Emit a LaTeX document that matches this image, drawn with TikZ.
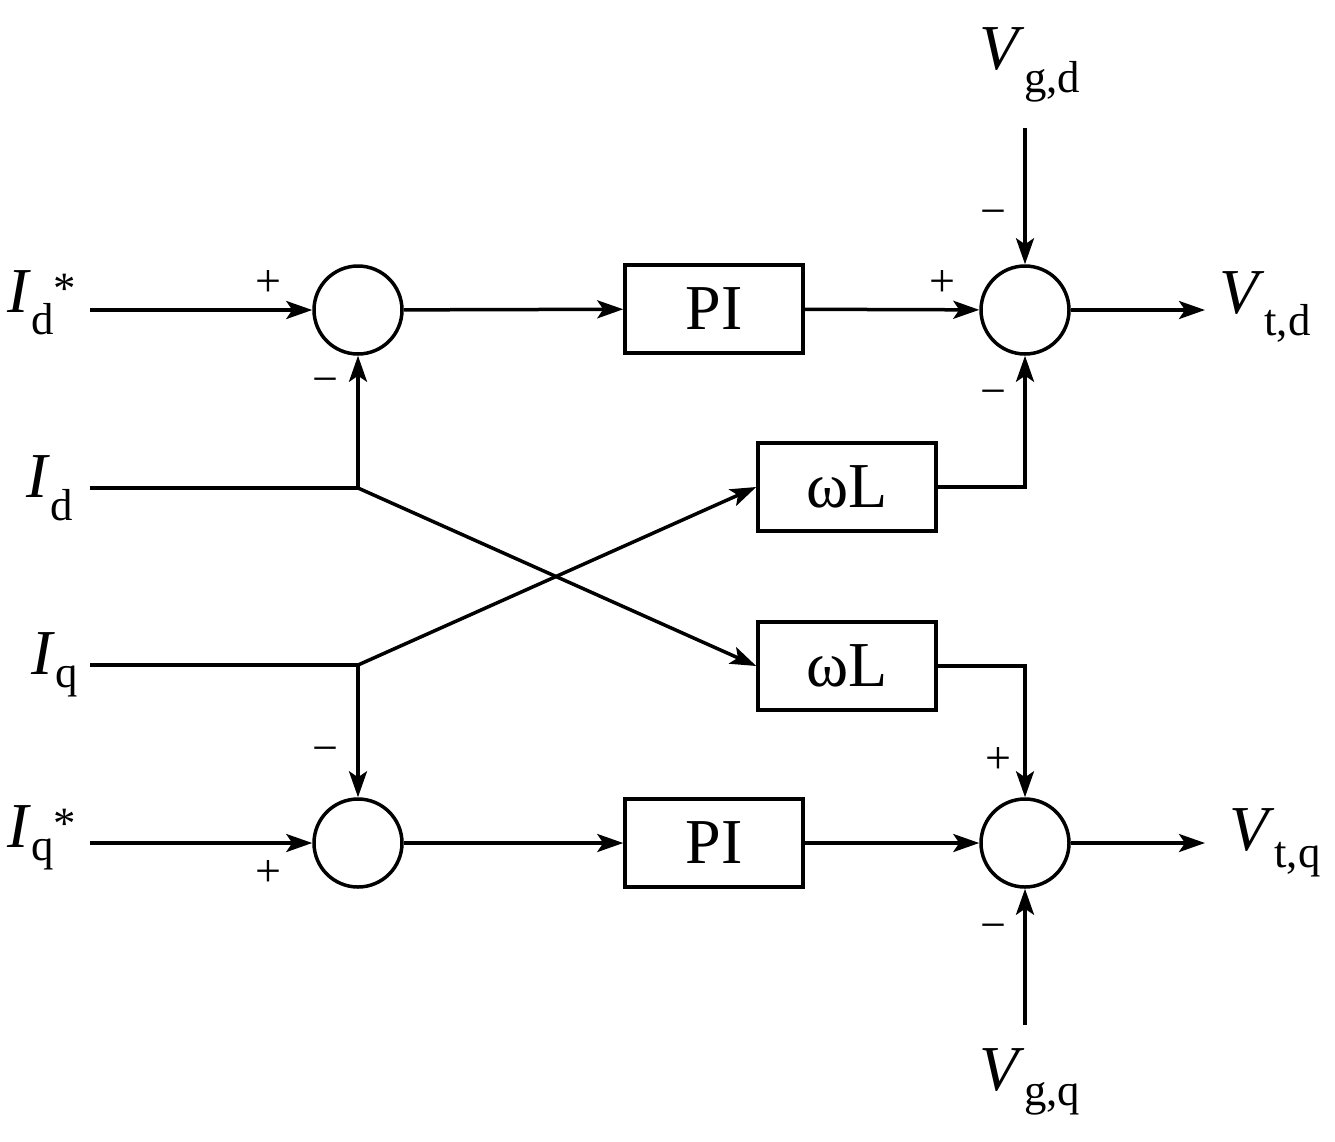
\documentclass[tikz,border=0pt]{standalone}
\usepackage{fontspec}
\setmainfont{Liberation Serif}
\usetikzlibrary{arrows.meta}
\newcommand{\vsub}[2]{\textit{#1}\textsubscript{#2}}
\begin{document}
\begin{tikzpicture}[x=1pt,y=-1pt,line width=3.5pt,
 sum/.style={circle,draw,minimum size=88pt,inner sep=0pt},
 blk/.style={draw,minimum width=178pt,minimum height=88pt,font=\fontsize{64}{68}\selectfont},
 lab/.style={font=\fontsize{64}{70}\selectfont},
 sg/.style={font=\fontsize{46}{50}\selectfont},
 ar/.style={-{Stealth[length=26pt,width=18pt,inset=6pt]}}]
\useasboundingbox (0,0) rectangle (1335,1141);
\node[sum] (s1) at (358,310) {};
\node[sum] (s2) at (1025,310) {};
\node[sum] (s3) at (358,843) {};
\node[sum] (s4) at (1025,843) {};
\node[blk] (pi1) at (714,309) {PI};
\node[blk] (pi2) at (714,843) {PI};
\node[blk] (w1) at (847,487) {ωL};
\node[blk] (w2) at (847,666) {ωL};
\node[lab] (idr) at (42,303) {\vsub{I}{d}\textsuperscript{*}};
\node[lab] (id) at (50,488) {\vsub{I}{d}};
\node[lab] (iq) at (55,665) {\vsub{I}{q}};
\node[lab] (iqr) at (42,838) {\vsub{I}{q}\textsuperscript{*}};
\node[lab] (vgd) at (1030,65) {\vsub{V}{g,d}};
\node[lab] (vgq) at (1030,1082) {\vsub{V}{g,q}};
\node[lab] (vtd) at (1265,307) {\vsub{V}{t,d}};
\node[lab] (vtq) at (1275,843) {\vsub{V}{t,q}};
\coordinate (a1) at (90,310); \coordinate (a2) at (90,488);
\coordinate (a3) at (90,665); \coordinate (a4) at (90,843);
\coordinate (j1) at (358,488); \coordinate (j2) at (358,665);
\coordinate (t1) at (1025,128); \coordinate (t2) at (1025,1025);
\coordinate (o1) at (1205,310); \coordinate (o2) at (1205,843);
\draw[ar] (a1) -- (s1);
\draw[ar] (s1) -- (pi1);
\draw[ar] (pi1) -- (s2);
\draw[ar] (s2) -- (o1);
\draw[ar] (a4) -- (s3);
\draw[ar] (s3) -- (pi2);
\draw[ar] (pi2) -- (s4);
\draw[ar] (s4) -- (o2);
\draw (a2) -- (j1); \draw[ar] (j1) -- (s1);
\draw (a3) -- (j2); \draw[ar] (j2) -- (s3);
\draw[ar] (j1) -- (w2.west);
\draw[ar] (j2) -- (w1.west);
\draw[ar] (w1.east) -| (s2);
\draw[ar] (w2.east) -| (s4);
\draw[ar] (t1) -- (s2);
\draw[ar] (t2) -- (s4);
\node[sg] at (268,283) {+}; \node[sg] at (325,386) {−};
\node[sg] at (942,283) {+}; \node[sg] at (993,218) {−}; \node[sg] at (993,398) {−};
\node[sg] at (325,755) {−}; \node[sg] at (268,873) {+};
\node[sg] at (998,760) {+}; \node[sg] at (993,932) {−};
\end{tikzpicture}
\end{document}
